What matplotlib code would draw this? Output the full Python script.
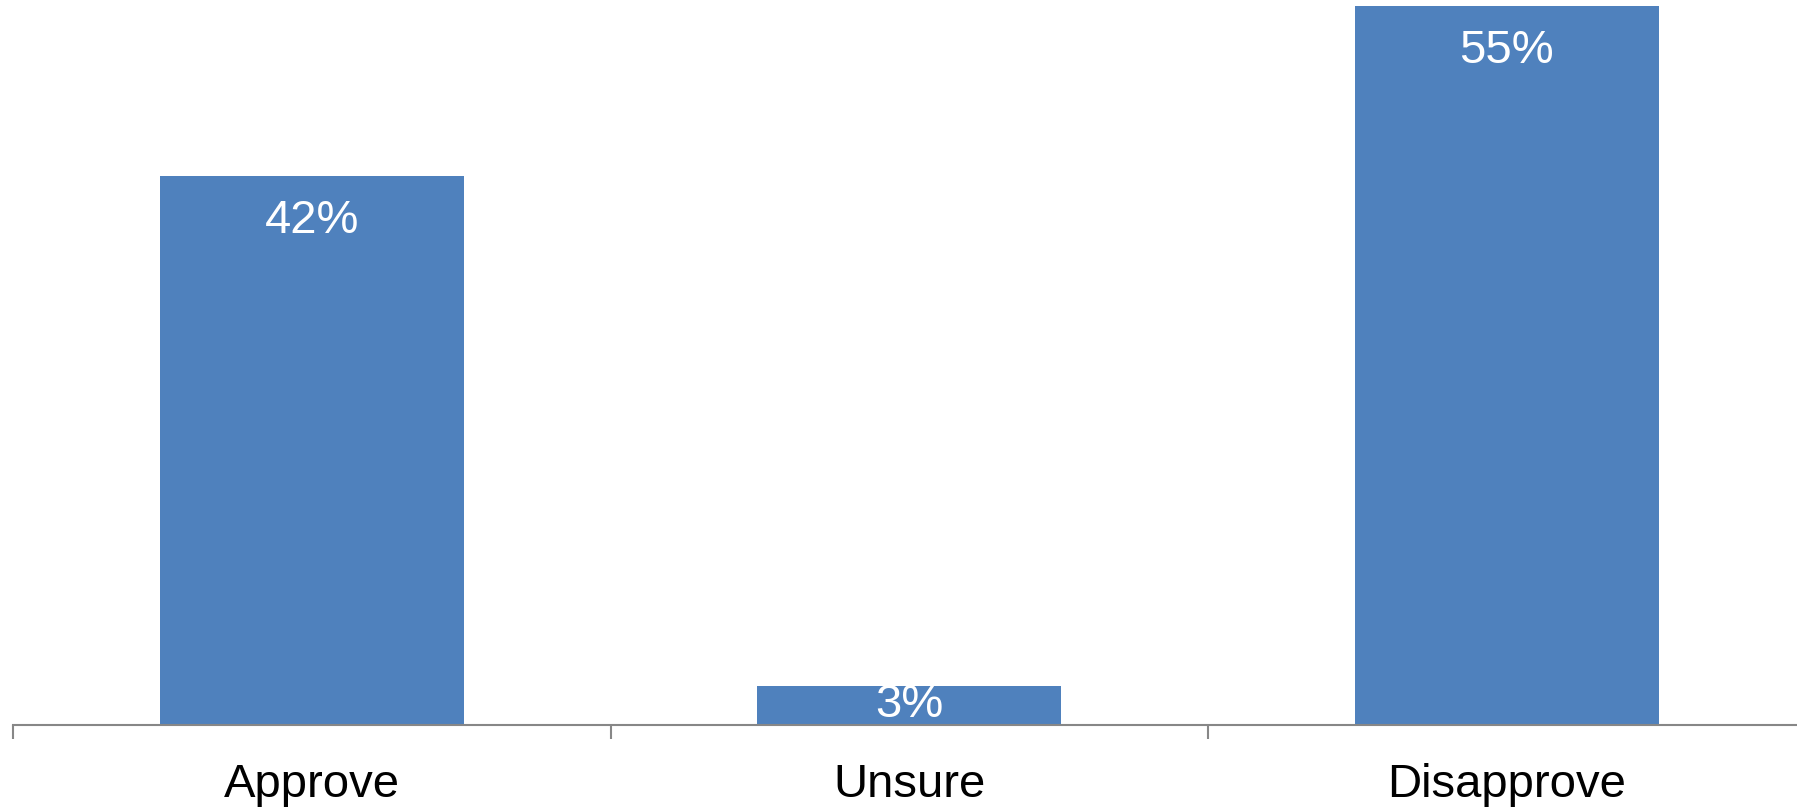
import matplotlib
matplotlib.use("Agg")
import matplotlib.pyplot as plt
from matplotlib.ticker import FixedLocator, NullFormatter
import matplotlib.transforms as mtransforms
import numpy as np

categories = ["Approve", "Unsure", "Disapprove"]
values = [42, 3, 55]
labels = ["42%", "3%", "55%"]

plt.rcParams['font.family'] = ['Liberation Sans', 'DejaVu Sans']

W, H, DPI = 1797, 808, 100
fig = plt.figure(figsize=(W / DPI, H / DPI), dpi=DPI)
ax_left = 13.3 / W
ax_bottom = 1 - 725 / H
ax_width = 3 * 597.3 / W
ax_height = 725 / H
ax = fig.add_axes([ax_left, ax_bottom, ax_width, ax_height])

x = np.arange(len(categories))
bar_color = "#4F81BD"
ax.bar(x, values, width=0.509, color=bar_color, edgecolor="none", zorder=2)

ax.set_xlim(-0.5, len(categories) - 0.5)
ax.set_ylim(0, 55.47)

for s in ["top", "left", "right"]:
    ax.spines[s].set_visible(False)
ax.spines["bottom"].set_color("#878787")
ax.spines["bottom"].set_linewidth(1.5)
ax.spines["bottom"].set_zorder(3)
ax.set_yticks([])

# major ticks at category boundaries, labels at centres
ax.xaxis.set_major_locator(FixedLocator(np.arange(-0.5, len(categories), 1.0)))
ax.xaxis.set_major_formatter(NullFormatter())
ax.xaxis.set_minor_locator(FixedLocator(x))
ax.set_xticklabels(categories, minor=True)
ax.tick_params(axis="x", which="major", direction="out", length=10,
               width=1.5, color="#878787")
ax.tick_params(axis="x", which="minor", length=0, pad=27.5,
               labelsize=34, labelcolor="black")

# value labels
for xi, v, lab in zip(x, values, labels):
    if v >= 10:
        off = mtransforms.offset_copy(ax.transData, fig=fig, x=0, y=-57, units="dots")
        ax.text(xi, v, lab, transform=off, ha="center", va="baseline",
                color="white", fontsize=34, zorder=4)
    else:
        ax.text(xi, v / 2, lab, ha="center", va="center",
                color="white", fontsize=34, zorder=4)

fig.savefig("out.png", dpi=DPI)
